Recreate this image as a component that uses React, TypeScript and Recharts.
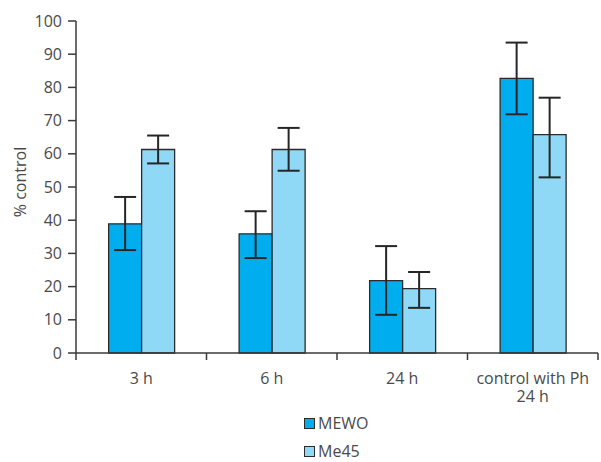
import React from "react";
import { BarChart, Bar, XAxis, YAxis, ErrorBar } from "recharts";

const categories = ["3 h", "6 h", "24 h", "control with Ph\n24 h"];
const mewoValues = [38.9, 35.9, 21.8, 82.7];
const mewoErrors = [[7.9, 8.1], [7.3, 6.8], [10.3, 10.4], [10.8, 10.8]];
const me45Values = [61.3, 61.3, 19.4, 65.8];
const me45Errors = [[4.2, 4.2], [6.4, 6.5], [5.8, 5.0], [12.9, 11.1]];
const yTicks = [0, 10, 20, 30, 40, 50, 60, 70, 80, 90, 100];

const series = [
  { key: "MEWO", err: "mewoErr", color: "#00aeef" },
  { key: "Me45", err: "me45Err", color: "#8fd8f6" },
];

const data = categories.map((name, i) => ({
  name,
  MEWO: mewoValues[i],
  mewoErr: mewoErrors[i],
  Me45: me45Values[i],
  me45Err: me45Errors[i],
}));

const W = 601;
const H = 462;
const PLOT_LEFT = 76;
const PLOT_RIGHT = 598;
const BAND = (PLOT_RIGHT - PLOT_LEFT) / categories.length;
const AXIS = "#3a3a3a";
const TEXT = "#4a4a4a";
const FONT = "'Open Sans', sans-serif";

function XTick(props: any) {
  const { x, y, payload, index } = props;
  const lines = String(payload.value).split("\n");
  return (
    <g>
      {index === 0 && (
        <line x1={x - BAND / 2} x2={x - BAND / 2} y1={y} y2={y + 7} stroke={AXIS} strokeWidth={1.5} />
      )}
      <line x1={x + BAND / 2} x2={x + BAND / 2} y1={y} y2={y + 7} stroke={AXIS} strokeWidth={1.5} />
      {lines.map((l, i) => (
        <text key={i} x={x} y={y + 31 + i * 18} textAnchor="middle" fill={TEXT} fontSize={16} fontFamily={FONT}>
          {l}
        </text>
      ))}
    </g>
  );
}

export default function App() {
  return (
    <div style={{ position: "absolute", left: 0, top: 0, width: W, height: H, background: "#fff" }}>
      <BarChart
        width={W}
        height={H}
        data={data}
        margin={{ top: 21, right: W - PLOT_RIGHT, bottom: 69, left: 0 }}
        barGap={0}
        barCategoryGap="25%"
      >
        <XAxis
          dataKey="name"
          height={40}
          tick={<XTick />}
          tickLine={false}
          tickSize={0}
          tickMargin={0}
          interval={0}
          axisLine={{ stroke: AXIS, strokeWidth: 1.5 }}
        />
        <XAxis xAxisId="top" dataKey="name" orientation="top" height={0} tick={false} tickLine={false} axisLine={{ stroke: AXIS, strokeWidth: 1.5 }} />
        <YAxis
          width={PLOT_LEFT}
          domain={[0, 100]}
          ticks={yTicks}
          interval={0}
          tickSize={8}
          tickMargin={6}
          tick={{ fill: TEXT, fontSize: 16, fontFamily: FONT }}
          tickLine={{ stroke: AXIS, strokeWidth: 1.5 }}
          axisLine={{ stroke: AXIS, strokeWidth: 1.5 }}
          label={{
            content: () => (
              <text
                x={20}
                y={182}
                transform="rotate(-90 20 182)"
                textAnchor="middle"
                dominantBaseline="central"
                fill={TEXT}
                fontSize={16}
                fontFamily={FONT}
              >
                % control
              </text>
            ),
          }}
        />
        <YAxis yAxisId="right" orientation="right" width={0} domain={[0, 100]} tick={false} tickLine={false} axisLine={{ stroke: AXIS, strokeWidth: 1.5 }} />
        {series.map((s) => (
          <Bar key={s.key} dataKey={s.key} fill={s.color} stroke="#2b2b2b" strokeWidth={1.3} isAnimationActive={false}>
            <ErrorBar dataKey={s.err} width={11} stroke="#262626" strokeWidth={2} direction="y" />
          </Bar>
        ))}
      </BarChart>
      <div style={{ position: "absolute", left: 304, top: 409, fontFamily: FONT, fontSize: 16, color: TEXT }}>
        {series.map((s) => (
          <div key={s.key} style={{ display: "flex", alignItems: "center", height: 28 }}>
            <svg width={11} height={11} style={{ marginRight: 3, flex: "none" }}>
              <rect x={0.5} y={0.5} width={10} height={10} fill={s.color} stroke="#2b2b2b" strokeWidth={1} />
            </svg>
            {s.key}
          </div>
        ))}
      </div>
    </div>
  );
}
